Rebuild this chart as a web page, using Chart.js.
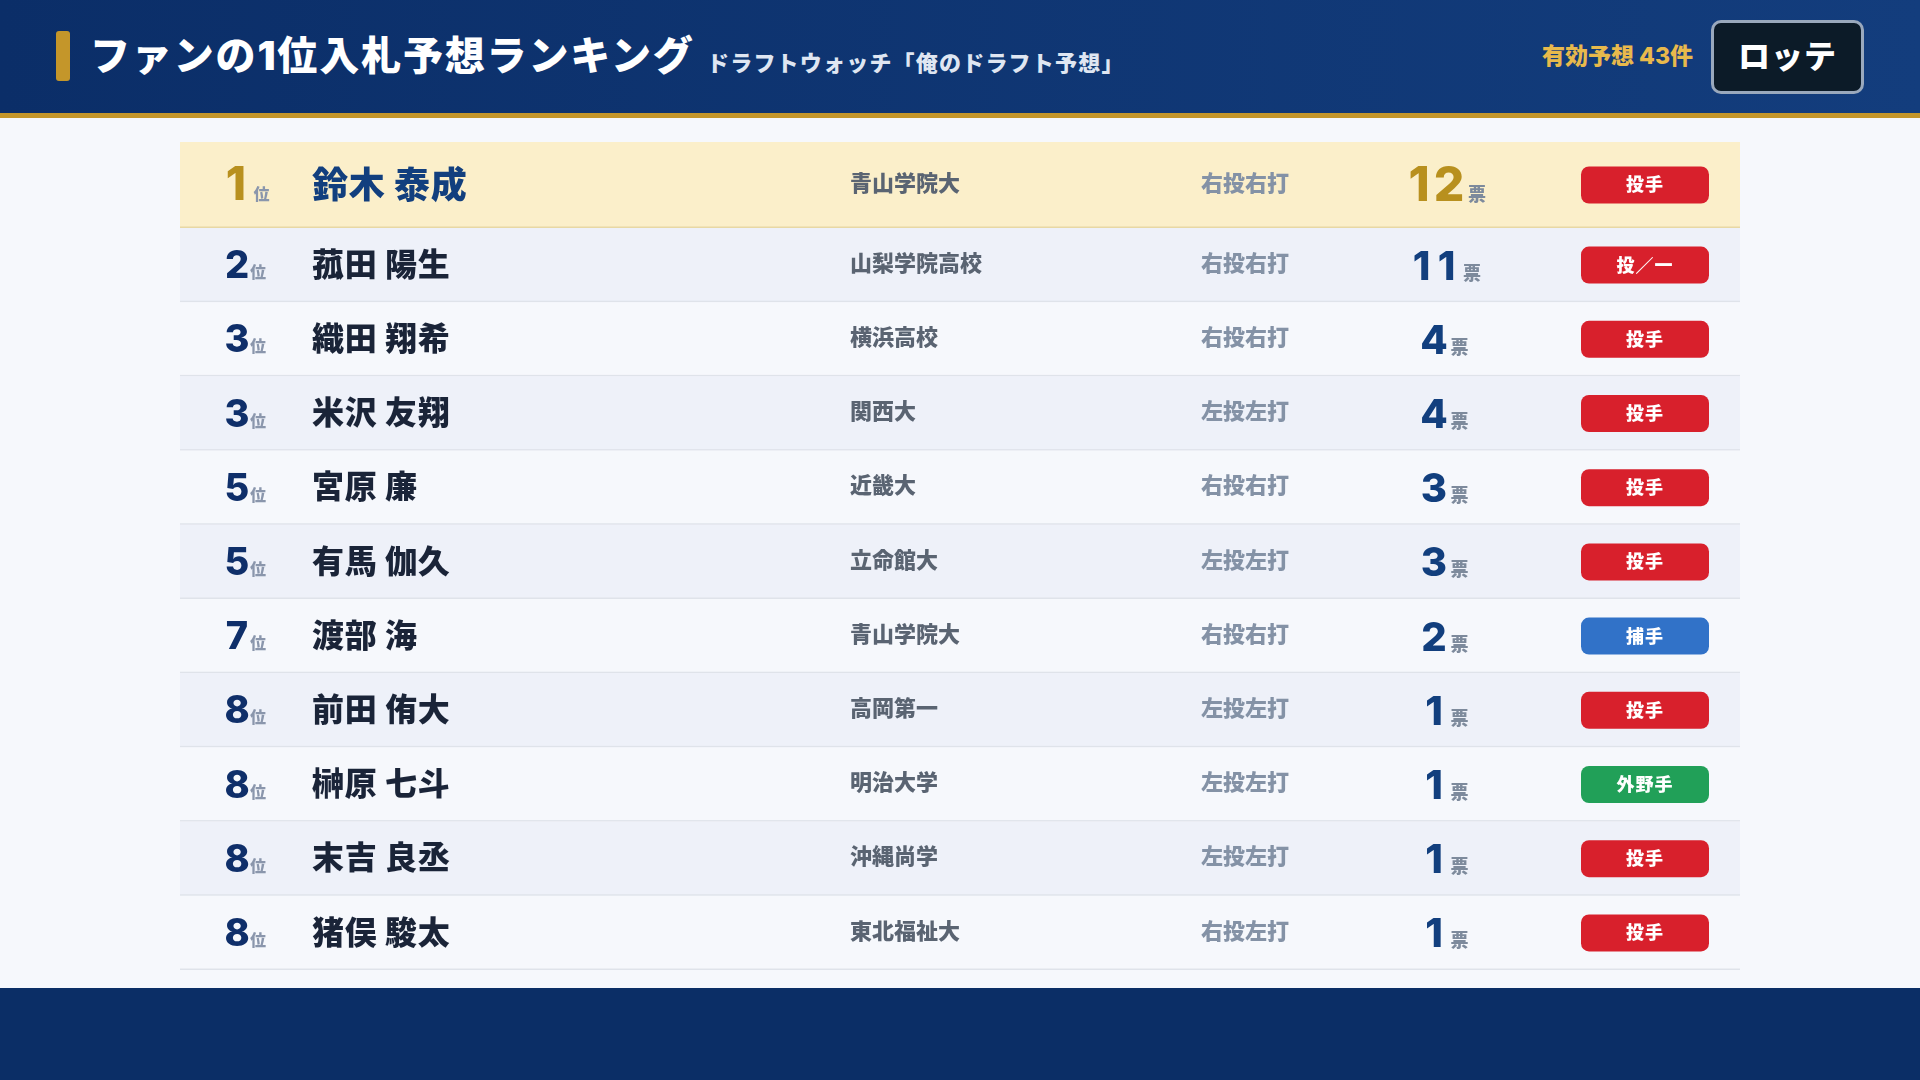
<!DOCTYPE html>
<html lang="ja">
<head>
<meta charset="utf-8">
<title>ファンの1位入札予想ランキング</title>
<script src="https://cdn.jsdelivr.net/npm/chart.js@4"></script>
<style>
  html, body { margin: 0; padding: 0; width: 1920px; height: 1080px; overflow: hidden; background: #f6f8fc; font-family: Inter, "Noto Sans CJK JP", sans-serif; font-weight: 700; }
  header { position: absolute; left: 0; top: 0; width: 1920px; height: 113px; background: linear-gradient(90deg, #0b2e68, #133d7d); border-bottom: 5px solid #c4962a; }
  #mark { position: absolute; left: 56px; top: 31px; width: 14px; height: 50px; border-radius: 3px; background: #c4962a; }
  #title { position: absolute; left: 90px; top: 27px; font-size: 40px; font-weight: 900; line-height: 58px; letter-spacing: 1.85px; color: #fff; white-space: nowrap; }
  #sub { position: absolute; left: 707px; top: 46px; font-size: 22px; font-weight: 800; line-height: 34px; letter-spacing: 1.2px; color: #dfe6f2; white-space: nowrap; }
  #count { position: absolute; right: 227px; top: 39px; font-size: 23px; font-weight: 800; line-height: 34px; color: #e8b94c; white-space: nowrap; }
  #team { position: absolute; left: 1711px; top: 20px; width: 147px; height: 68px; border: 3px solid #9aa9bd; border-radius: 10px; background: #0c1b28; color: #fff; font-size: 32px; font-weight: 900; line-height: 68px; letter-spacing: 1px; text-align: center; }
  footer { position: absolute; left: 0; top: 988px; width: 1920px; height: 92px; background: #0b2e66; }
  canvas { position: absolute; left: 180px; }
  #topChart { top: 142px; }
  #restChart { top: 228px; }
</style>
</head>
<body>
<header>
  <div id="mark"></div>
  <div id="title">ファンの1位入札予想ランキング</div>
  <div id="sub">ドラフトウォッチ「俺のドラフト予想」</div>
  <div id="count">有効予想 43件</div>
  <div id="team">ロッテ</div>
</header>
<canvas id="topChart" width="1560" height="86"></canvas>
<canvas id="restChart" width="1560" height="742"></canvas>
<footer></footer>
<script>
const ranks = [1, 2, 3, 3, 5, 5, 7, 8, 8, 8, 8];
const players = ["鈴木 泰成", "菰田 陽生", "織田 翔希", "米沢 友翔", "宮原 廉", "有馬 伽久", "渡部 海", "前田 侑大", "榊原 七斗", "末吉 良丞", "猪俣 駿太"];
const schools = ["青山学院大", "山梨学院高校", "横浜高校", "関西大", "近畿大", "立命館大", "青山学院大", "高岡第一", "明治大学", "沖縄尚学", "東北福祉大"];
const handedness = ["右投右打", "右投右打", "右投右打", "左投左打", "右投右打", "左投左打", "右投右打", "左投左打", "左投左打", "左投左打", "右投左打"];
const votes = [12, 11, 4, 4, 3, 3, 2, 1, 1, 1, 1];
const positions = ["投手", "投／一", "投手", "投手", "投手", "投手", "捕手", "投手", "外野手", "投手", "投手"];

const positionColors = { "投手": "#d8202c", "投／一": "#d8202c", "捕手": "#3172c8", "外野手": "#21a058" };
const FONT = 'Inter, "Noto Sans CJK JP", sans-serif';
const DIGIT_WIDTH = 0.625; // digits sit in fixed cells so 1 lines up with 4

function setFont(ctx, size, spacing, weight) {
  ctx.font = (weight || 700) + " " + size + "px " + FONT;
  ctx.letterSpacing = (spacing || 0) + "px";
}

// number + small unit, centered as one group on cx
function drawNumberUnit(ctx, num, unit, cx, y, numSize, unitSize, numColor, unitColor, gap) {
  const cell = numSize * DIGIT_WIDTH;
  const numW = cell * num.length;
  const left = cx - (numW + gap + unitSize) / 2;
  ctx.textBaseline = "alphabetic";
  setFont(ctx, numSize, 0, 800);
  ctx.textAlign = "center";
  ctx.fillStyle = numColor;
  num.split("").forEach((d, i) => ctx.fillText(d, left + (i + 0.5) * cell, y));
  setFont(ctx, unitSize, 0, 800);
  ctx.textAlign = "left";
  ctx.fillStyle = unitColor;
  ctx.fillText(unit, left + numW + gap, y);
}

const tableRows = {
  id: "tableRows",
  // row bands go under everything, taken from the category scale
  beforeDatasetsDraw(chart, args, opts) {
    const { ctx, chartArea, scales } = chart;
    const band = chartArea.height / chart.data.labels.length;
    chart.data.labels.forEach((label, i) => {
      const y = scales.y.getPixelForValue(i);
      const top = y - band / 2;
      const idx = i + opts.start;
      ctx.fillStyle = opts.top ? "#fbefca" : (idx % 2 === 1 ? "#eef1f9" : "#f6f8fc");
      ctx.fillRect(chartArea.left, top, chartArea.width, band);
      ctx.fillStyle = opts.top ? "#e8d8a4" : "#dfe3ea";
      ctx.fillRect(chartArea.left, top + band - 1.5, chartArea.width, 1.5);
    });
  },
  afterDatasetsDraw(chart, args, opts) {
    const { ctx, chartArea, scales } = chart;
    const L = chartArea.left;
    chart.data.labels.forEach((label, i) => {
      const idx = i + opts.start;
      const y = scales.y.getPixelForValue(i);
      const big = opts.top;
      ctx.save();
      drawNumberUnit(ctx, String(ranks[idx]), "位", L + 65.5, y + (big ? 14.5 : 13), big ? 46 : 38, 16,
        big ? "#b8901e" : "#0f2f6a", "#8a96ac", big ? 3 : 1);

      ctx.textAlign = "left";
      ctx.textBaseline = "middle";
      setFont(ctx, big ? 36 : 32, 0.7, 800);
      ctx.fillStyle = big ? "#123f7e" : "#1a2438";
      ctx.fillText(label, L + 132, y + (big ? 2 : 1));

      setFont(ctx, 22, 0, 800);
      ctx.fillStyle = "#5a6472";
      ctx.fillText(schools[idx], L + 670, y - 1);
      ctx.fillStyle = "#8492a6";
      ctx.fillText(handedness[idx], L + 1021, y - 1);

      drawNumberUnit(ctx, String(votes[idx]), "票", L + 1265, y + (big ? 16 : 14.5), big ? 48 : 40, 18,
        big ? "#b8901e" : "#123f7e", "#7d8a9c", 4);

      // position badge
      const pos = positions[idx];
      ctx.fillStyle = positionColors[pos];
      ctx.beginPath();
      ctx.roundRect(L + 1401, y - 18.5, 128, 37, 8);
      ctx.fill();
      setFont(ctx, 18, 1, 800);
      ctx.fillStyle = "#fff";
      ctx.textAlign = "center";
      ctx.textBaseline = "middle";
      ctx.fillText(pos, L + 1465, y + 1);
      ctx.restore();
    });
  },
};

function makeTable(canvasId, start, end, isTop) {
  return new Chart(document.getElementById(canvasId).getContext("2d"), {
    type: "bar",
    data: {
      labels: players.slice(start, end),
      datasets: [{ label: "票", data: votes.slice(start, end), backgroundColor: "rgba(0,0,0,0)" }],
    },
    plugins: [tableRows],
    options: {
      indexAxis: "y",
      responsive: false,
      animation: false,
      events: [],
      devicePixelRatio: 1,
      layout: { padding: 0 },
      plugins: {
        legend: { display: false },
        tooltip: { enabled: false },
        tableRows: { start: start, top: isTop },
      },
      scales: {
        x: { display: false, min: 0, max: 12 },
        y: { display: false },
      },
    },
  });
}

const topChart = makeTable("topChart", 0, 1, true);
const restChart = makeTable("restChart", 1, 11, false);
</script>
</body>
</html>
